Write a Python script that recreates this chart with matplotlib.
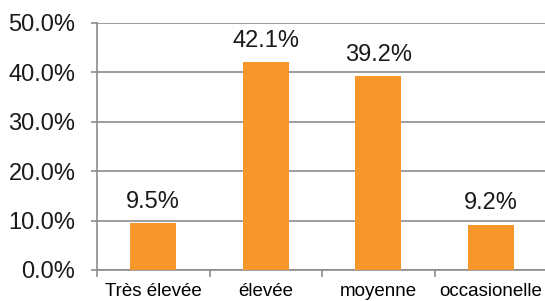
import numpy as np
import matplotlib
matplotlib.use('Agg')
import matplotlib.pyplot as plt
from matplotlib.ticker import FixedLocator, PercentFormatter

categories = ['Très élevée', 'élevée', 'moyenne', 'occasionelle']
values = [9.5, 42.1, 39.2, 9.2]
yticks = [0, 10, 20, 30, 40, 50]

plt.rcParams['font.family'] = ['Liberation Sans', 'DejaVu Sans']

fig = plt.figure(figsize=(5.45, 3.01), dpi=100)
ax = fig.add_axes([0.178, 0.103, 0.826, 0.821])

x = np.arange(len(categories))
bars = ax.bar(x, values, width=0.41, color='#F7962A', zorder=3)
for b, v in zip(bars, values):
    ax.text(b.get_x() + b.get_width() / 2, v + 2.1, '%.1f%%' % v,
            ha='center', va='bottom', fontsize=17, color='#1a1a1a')

ax.set_xlim(-0.5, len(categories) - 0.5)
ax.set_ylim(0, 50)
ax.set_yticks(yticks)
ax.yaxis.set_major_formatter(PercentFormatter(decimals=1))
ax.yaxis.grid(True, color='#8c8c8c', linewidth=1.2, zorder=0)

# category labels centred, tick marks at the boundaries
ax.set_xticks(x)
ax.set_xticklabels(categories, fontsize=13.5)
ax.tick_params(axis='x', length=0, pad=9.5)
ax.xaxis.set_minor_locator(FixedLocator(np.arange(len(categories) + 1) - 0.5))
ax.tick_params(axis='x', which='minor', length=5, color='#8c8c8c', width=1.2)
ax.tick_params(axis='y', length=4.5, color='#8c8c8c', width=1.2, labelsize=17,
               pad=11, labelcolor='#1a1a1a')

for s in ['top', 'right']:
    ax.spines[s].set_visible(False)
for s in ['left', 'bottom']:
    ax.spines[s].set_color('#8c8c8c')
    ax.spines[s].set_linewidth(1.2)

fig.savefig('out.png', dpi=100)
